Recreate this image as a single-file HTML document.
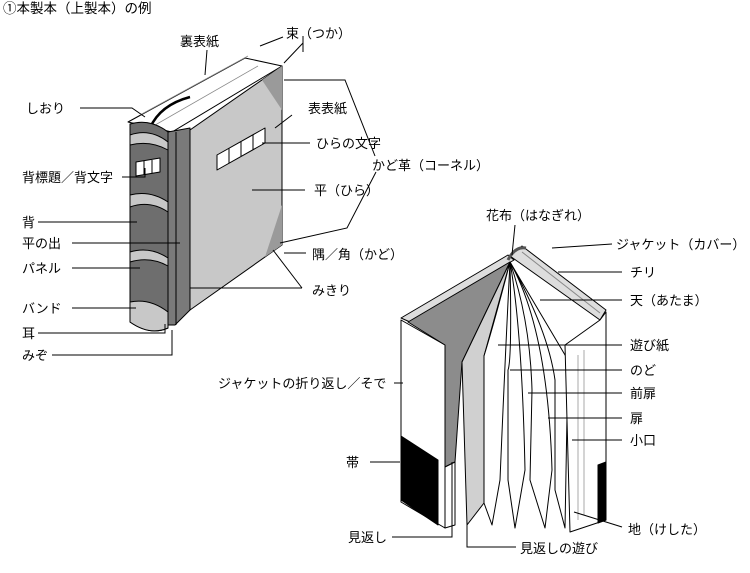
<!DOCTYPE html>
<html><head><meta charset="utf-8"><style>
body{margin:0;background:#fff;}
svg{display:block;}
text{font-family:"Liberation Sans","Noto Sans CJK JP",sans-serif;font-size:13px;fill:#000;}
</style></head><body>
<svg width="750" height="573" viewBox="0 0 750 573" xmlns="http://www.w3.org/2000/svg">
<text x="3" y="13" style="font-size:13.5px">①本製本（上製本）の例</text>

<!-- LEFT BOOK -->
<g stroke="#000" stroke-width="1" stroke-linejoin="round">
<polygon points="128,122 245,58 282,66 172,132" fill="#fff"/>
<path d="M140,115 L248,56 M150,128 L258,66" fill="none" stroke="#888" stroke-width="0.8"/>
<path d="M150,128 Q160,105 190,97" fill="none" stroke="#000" stroke-width="2.5"/>
<polygon points="190,130 282,66 282,245 190,310" fill="#c8c8c8"/>
<polygon points="262,80 282,66 282,110" fill="#9a9a9a" stroke="none"/>
<polygon points="282,205 282,245 265,257" fill="#9a9a9a" stroke="none"/>
<polygon points="168,132 190,128 190,310 175,325 168,325" fill="#7a7a7a"/>
<line x1="176" y1="132" x2="176" y2="325" stroke="#000"/>
<path d="M130,124 Q150,118 168,132 L168,328 Q150,336 130,322 Z" fill="#6e6e6e"/>
<path d="M130,135 Q150,128 168,142 L168,150 Q150,140 130,145 Z" fill="#c8c8c8"/>
<path d="M130,195 Q150,190 168,202 L168,212 Q150,200 130,207 Z" fill="#c8c8c8"/>
<path d="M130,252 Q150,246 168,258 L168,266 Q150,256 130,262 Z" fill="#c8c8c8"/>
<path d="M130,302 Q150,298 168,312 L168,328 Q150,336 130,322 Z" fill="#c8c8c8"/>
<polygon points="136,162 160,158 160,172 136,176" fill="#fff"/>
<line x1="144" y1="161" x2="144" y2="175"/><line x1="152" y1="160" x2="152" y2="173"/>
<polygon points="217,155 265,128 265,143 217,170" fill="#fff"/>
<line x1="229" y1="148" x2="229" y2="163"/><line x1="241" y1="141" x2="241" y2="156"/><line x1="253" y1="135" x2="253" y2="150"/>
</g>

<g stroke="#000" stroke-width="1" fill="none">
<line x1="207" y1="50" x2="205" y2="75"/>
<polyline points="260,46 283,37"/><polyline points="303,43 284,63"/><line x1="303" y1="36" x2="303" y2="52"/>
<polyline points="80,108 132,108 145,117"/>
<line x1="292" y1="115" x2="275" y2="128"/>
<line x1="310" y1="143" x2="262" y2="143"/>
<polyline points="284,80 345,80 375,156"/>
<polyline points="280,243 347,228 376,172"/>
<line x1="305" y1="190" x2="252" y2="190"/>
<line x1="306" y1="253" x2="284" y2="253"/>
<polyline points="302,288 190,288"/><line x1="302" y1="288" x2="273" y2="250"/>
<polyline points="122,177 145,177 145,168"/>
<line x1="38" y1="222" x2="137" y2="222"/>
<line x1="72" y1="243" x2="180" y2="243"/>
<line x1="72" y1="268" x2="140" y2="268"/>
<line x1="72" y1="308" x2="136" y2="308"/>
<polyline points="38,333 165,333 165,324"/>
<polyline points="52,355 172,355 172,330"/>
</g>
<text x="180" y="46">裏表紙</text>
<text x="286" y="38">束（つか）</text>
<text x="26" y="113">しおり</text>
<text x="308" y="113">表表紙</text>
<text x="316" y="148">ひらの文字</text>
<text x="372" y="170">かど革（コーネル）</text>
<text x="314" y="195">平（ひら）</text>
<text x="312" y="259">隅／角（かど）</text>
<text x="312" y="295">みきり</text>
<text x="22" y="182">背標題／背文字</text>
<text x="22" y="227">背</text>
<text x="22" y="248">平の出</text>
<text x="22" y="273">パネル</text>
<text x="22" y="313">バンド</text>
<text x="22" y="338">耳</text>
<text x="22" y="360">みぞ</text>

<!-- RIGHT BOOK -->
<g stroke="#000" stroke-width="1" stroke-linejoin="round">
<polygon points="401,318 508,255 514,260 410,322" fill="#ddd"/>
<polygon points="401,320 445,345 445,528 401,502" fill="#fff"/>
<polygon points="401,436 438,460 438,525 401,500" fill="#000"/>
<polygon points="408,322 510,262 462,362 455,462 445,467 445,345" fill="#8c8c8c"/>
<polygon points="445,467 455,462 455,525 445,528" fill="#fff"/>
<polygon points="510,262 484,356 484,503 467,525 462,362" fill="#d0d0d0"/>
<path d="M510,262 Q495,320 484,356 L484,503 L492,525 L500,480 Q505,360 510,262 Z" fill="#fff"/>
<path d="M510,262 Q512,360 508,370 L508,480 L515,528 L525,470 Q522,330 510,262 Z" fill="#fff"/>
<path d="M510,262 Q530,320 532,390 L530,480 L545,528 L552,470 Q548,330 510,262 Z" fill="#fff"/>
<path d="M510,262 Q548,330 555,380 L555,490 L565,528 L568,360 Z" fill="#fff"/>
<polygon points="510,256 522,246 606,310 600,320" fill="#ddd"/>
<path d="M522,252 L600,313" stroke="#888" fill="none"/>
<polygon points="565,345 600,320 606,312 606,520 570,532" fill="#fff"/>
<polygon points="598,465 606,462 606,520 598,523" fill="#000"/>
<path d="M578,355 L578,520 M584,350 L584,515" stroke="#aaa" fill="none"/>
<path d="M508,260 Q515,246 526,248" fill="none" stroke="#555" stroke-width="3"/>
</g>
<g stroke="#000" stroke-width="1" fill="none">
<line x1="515" y1="225" x2="512" y2="255"/>
<line x1="612" y1="244" x2="552" y2="248"/>
<line x1="622" y1="272" x2="558" y2="272"/>
<line x1="622" y1="300" x2="540" y2="300"/>
<line x1="622" y1="345" x2="498" y2="345"/>
<line x1="622" y1="370" x2="510" y2="370"/>
<line x1="622" y1="393" x2="528" y2="393"/>
<line x1="622" y1="418" x2="548" y2="418"/>
<line x1="622" y1="440" x2="572" y2="440"/>
<line x1="622" y1="527" x2="574" y2="512"/>
<line x1="394" y1="383" x2="403" y2="383"/>
<line x1="370" y1="462" x2="400" y2="462"/>
<polyline points="392,537 452,537 452,462"/>
<polyline points="516,547 467,547 467,522"/>
</g>
<text x="486" y="220">花布（はなぎれ）</text>
<text x="616" y="249">ジャケット（カバー）</text>
<text x="630" y="277">チリ</text>
<text x="630" y="305">天（あたま）</text>
<text x="630" y="350">遊び紙</text>
<text x="630" y="375">のど</text>
<text x="630" y="398">前扉</text>
<text x="630" y="423">扉</text>
<text x="630" y="445">小口</text>
<text x="628" y="534">地（けした）</text>
<text x="218" y="388">ジャケットの折り返し／そで</text>
<text x="346" y="467">帯</text>
<text x="348" y="542">見返し</text>
<text x="520" y="553">見返しの遊び</text>
</svg>
</body></html>
